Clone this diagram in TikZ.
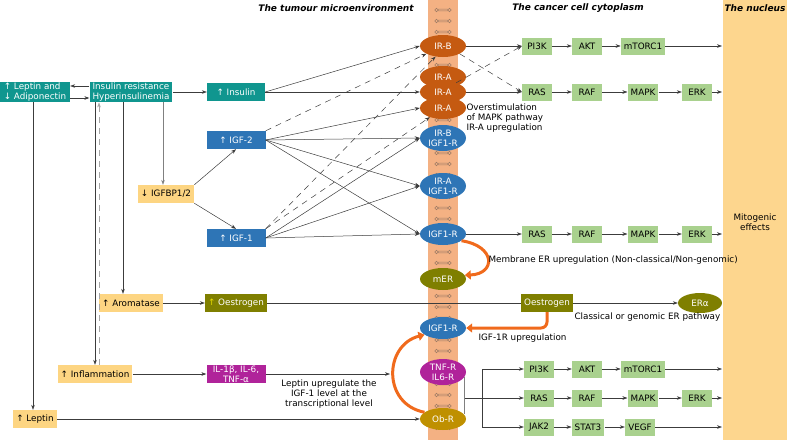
\documentclass[tikz,border=0pt]{standalone}
\usepackage{fontspec}
\setmainfont{DejaVu Sans}
\usetikzlibrary{shapes.geometric,arrows.meta}

\definecolor{tealc}{HTML}{10968F}
\definecolor{bluec}{HTML}{2E75B6}
\definecolor{palec}{HTML}{FDD582}
\definecolor{greenc}{HTML}{A9D18E}
\definecolor{olivec}{HTML}{7F7F00}
\definecolor{magc}{HTML}{B0239A}
\definecolor{brownc}{HTML}{C55A11}
\definecolor{ochrec}{HTML}{BF9000}
\definecolor{membc}{HTML}{F4B183}
\definecolor{nuclc}{HTML}{FDD68E}
\definecolor{orangec}{HTML}{F06A1C}
\definecolor{linec}{HTML}{3C3C3C}
\definecolor{lipidc}{HTML}{9C7A64}

\tikzset{
  every node/.style={font=\fontsize{8.8}{10}\selectfont},
  box/.style={rectangle,inner xsep=3pt,inner ysep=1pt,minimum height=18pt},
  tealbox/.style={box,fill=tealc,text=white},
  bluebox/.style={box,fill=bluec,text=white,minimum width=59pt},
  palebox/.style={box,fill=palec,text=black},
  olivebox/.style={box,fill=olivec,text=white},
  magbox/.style={box,fill=magc,text=white},
  grnbox/.style={box,fill=greenc,text=black,minimum height=17pt,minimum width=30pt,inner xsep=3pt},
  rcp/.style={ellipse,inner sep=0pt,minimum width=46pt,minimum height=22pt,text=white,align=center},
  lbl/.style={text=black},
  ttl/.style={font=\fontsize{9}{10}\selectfont\bfseries\itshape},
  line/.style={draw=linec,line width=0.5pt},
  arr/.style={line,-{Stealth[length=5pt,width=3.6pt]}},
  darr/.style={arr,dash pattern=on 6pt off 5pt},
  oarr/.style={draw=orangec,line width=3pt,-{Triangle[length=6pt,width=9pt]}}
}

\begin{document}
\begin{tikzpicture}[x=1pt,y=-1pt]
\useasboundingbox (0,0) rectangle (787,440);

% membrane and nucleus
\fill[membc] (428,0) rectangle (458,440);
\fill[nuclc] (723,0) rectangle (787,440);
\foreach \y in {10,21,...,436} {
  \draw[lipidc,line width=0.45pt] (436.5,\y) circle (1.8) (449.5,\y) circle (1.8)
    (438.3,\y-0.8) -- (447.7,\y-0.8) (438.3,\y+0.8) -- (447.7,\y+0.8);
}

% titles
\node[ttl] (ttlmicro) at (336,8) {The tumour microenvironment};
\node[ttl] (ttlcyto) at (578,8) {The cancer cell cytoplasm};
\node[ttl] (ttlnucl) at (755,8) {The nucleus};

% left side
\node[tealbox,align=left,minimum width=70pt] (lepadi) at (35,92) {↑ Leptin and\\↓ Adiponectin};
\node[tealbox,align=left] (insres) at (131,92) {Insulin resistance\\Hyperinsulinemia};
\node[tealbox,minimum width=58pt] (insulin) at (236,92) {↑ Insulin};
\node[bluebox] (igftwo) at (236,140) {↑ IGF-2};
\node[palebox] (igfbp) at (166,194) {↓ IGFBP1/2};
\node[bluebox] (igfone) at (236,238) {↑ IGF-1};
\node[palebox] (aromat) at (131,303) {↑ Aromatase};
\node[olivebox,minimum width=58pt] (oestr) at (236,303) {{\color{yellow!80!olive}↑} Oestrogen};
\node[palebox] (inflam) at (95,374) {↑ Inflammation};
\node[magbox,align=center,minimum width=59pt,inner ysep=0pt] (cytok) at (236,374) {IL-1β, IL-6,\\TNF-α};
\node[palebox] (leptin) at (35,419) {↑ Leptin};

% receptors
\node[rcp,fill=brownc] (irb) at (443,46) {IR-B};
\node[rcp,fill=brownc] (iraA) at (443,77) {IR-A};
\node[rcp,fill=brownc] (iraB) at (443,92) {IR-A};
\node[rcp,fill=brownc] (iraC) at (443,108) {IR-A};
\node[rcp,fill=bluec,minimum height=26pt] (irbigf) at (443,138) {IR-B\\IGF1-R};
\node[rcp,fill=bluec,minimum height=26pt] (iraigf) at (443,186) {IR-A\\IGF1-R};
\node[rcp,fill=bluec] (igfr) at (443,234) {IGF1-R};
\node[rcp,fill=olivec] (mer) at (443,279) {mER};
\node[rcp,fill=bluec] (igfrb) at (443,328) {IGF1-R};
\node[rcp,fill=magc,minimum height=26pt] (tnfr) at (443,372) {TNF-R\\IL6-R};
\node[rcp,fill=ochrec] (obr) at (443,419) {Ob-R};

% cytoplasm cascades
\foreach \n/\t/\x in {pi/PI3K/537,akt/AKT/587,mtor/mTORC1/643}
  \node[grnbox] (a\n) at (\x,46) {\t};
\foreach \n/\t/\x in {ras/RAS/537,raf/RAF/587,mapk/MAPK/643,erk/ERK/697}
  \node[grnbox] (b\n) at (\x,92) {\t};
\foreach \n/\t/\x in {ras/RAS/537,raf/RAF/587,mapk/MAPK/643,erk/ERK/697}
  \node[grnbox] (c\n) at (\x,234) {\t};
\foreach \n/\t/\x in {pi/PI3K/539,akt/AKT/587,mtor/mTORC1/643}
  \node[grnbox] (d\n) at (\x,369) {\t};
\foreach \n/\t/\x in {ras/RAS/539,raf/RAF/587,mapk/MAPK/643,erk/ERK/697}
  \node[grnbox] (e\n) at (\x,398) {\t};
\foreach \n/\t/\x in {jak/JAK2/539,stat/STAT3/588,vegf/VEGF/640}
  \node[grnbox] (f\n) at (\x,427) {\t};
\foreach \r/\y in {a/46,b/92,c/234,d/369,e/398,f/427}
  \coordinate (\r nu) at (722,\y);

\foreach \s/\e in {api/aakt,aakt/amtor,amtor/anu,
                   bras/braf,braf/bmapk,bmapk/berk,berk/bnu,
                   cras/craf,craf/cmapk,cmapk/cerk,cerk/cnu,
                   dpi/dakt,dakt/dmtor,dmtor/dnu,
                   eras/eraf,eraf/emapk,emapk/eerk,eerk/enu,
                   fjak/fstat,fstat/fvegf,fvegf/fnu}
  \draw[arr] (\s) -- (\e);

\draw[arr] (irb) -- (api);
\draw[arr] (iraB) -- (bras);
\draw[darr] (irb.-25) -- (bras.west);
\draw[darr] (iraB.35) -- (api.west);
\draw[arr] (igfr) -- (cras);

% oestrogen
\node[olivebox] (oesc) at (547,303) {Oestrogen};
\node[rcp,fill=olivec,minimum width=44pt,minimum height=20pt] (era) at (700,303) {ERα};
\draw[line] (oestr) -- (oesc);
\draw[arr] (oesc) -- (era);

% TNF-R / Ob-R signalling
\coordinate (split) at (482,398);
\draw[line,draw=gray] (tnfr.-12) -- (tnfr.-12 |- obr.12);
\draw[line] (tnfr.-12 |- split) -- (split);
\draw[arr] (split) |- (dpi);
\draw[arr] (split) -- (eras);
\draw[arr] (split) |- (fjak);

% left connectors
\draw[arr] ([yshift=6pt]insres.west) -- ([yshift=6pt]lepadi.east);
\draw[arr] ([yshift=-6pt]lepadi.east) -- ([yshift=-6pt]insres.west);
\draw[arr] (insres) -- (insulin);
\draw[arr,draw=gray] ([xshift=-3pt]igfbp.north |- insres.south) -- ([xshift=-3pt]igfbp.north);
\draw[arr] ([xshift=-8pt]aromat.north |- insres.south) -- ([xshift=-8pt]aromat.north);
\draw[arr] (inflam.north |- insres.south) -- (inflam.north);
\draw[darr,draw=gray!70] ([xshift=4pt]inflam.north) -- ([xshift=4pt]inflam.north |- insres.south);
\draw[arr] ([xshift=-2pt]lepadi.south) -- ([xshift=-2pt]leptin.north);
\draw[arr] (igfbp.north east) -- (igftwo.south);
\draw[arr] (igfbp.south east) -- (igfone.north);
\draw[arr] (aromat) -- (oestr);
\draw[arr] (inflam) -- (cytok);
\coordinate (lepin) at (390,374);
\draw[arr] (cytok) -- (lepin);
\draw[arr] (leptin) -- (obr);

% ligands to receptors
\draw[arr] (insulin.east) -- (irb.west);
\draw[arr] (insulin) -- (iraB);
\draw[arr] (igftwo.east) -- (iraC.west);
\foreach \t in {irbigf,iraigf,igfr} {
  \draw[arr] (igftwo.east) -- (\t.west);
  \draw[arr] (igfone.east) -- (\t.west);
}
\draw[darr] (igftwo.north east) -- (irb.205);
\draw[darr] (igfone.north east) -- (irb.235);
\draw[darr] (igfone.north east) -- (iraC.215);

% upregulation arrows
\draw[oarr] (igfr.-20) .. controls (496,246) and (496,274) .. (mer.10);
\draw[oarr] (obr.160) .. controls (382,404) and (384,345) .. (igfrb.200);
\draw[oarr,rounded corners=6pt] (oesc.south) |- (igfrb.east);

% labels
\node[lbl,anchor=north west,align=left] (ovst) at (463,100) {Overstimulation\\of MAPK pathway\\IR-A upregulation};
\node[lbl,anchor=west] (memer) at (485,260) {Membrane ER upregulation (Non-classical/Non-genomic)};
\node[lbl,anchor=west] (classic) at (571,317) {Classical or genomic ER pathway};
\node[lbl,anchor=west] (igfup) at (475,338) {IGF-1R upregulation};
\node[lbl,align=center] (lepup) at (329,394) {Leptin upregulate the\\IGF-1 level at the\\transcriptional level};
\node[lbl,align=center] (mitog) at (755,222) {Mitogenic\\effects};
\end{tikzpicture}
\end{document}
